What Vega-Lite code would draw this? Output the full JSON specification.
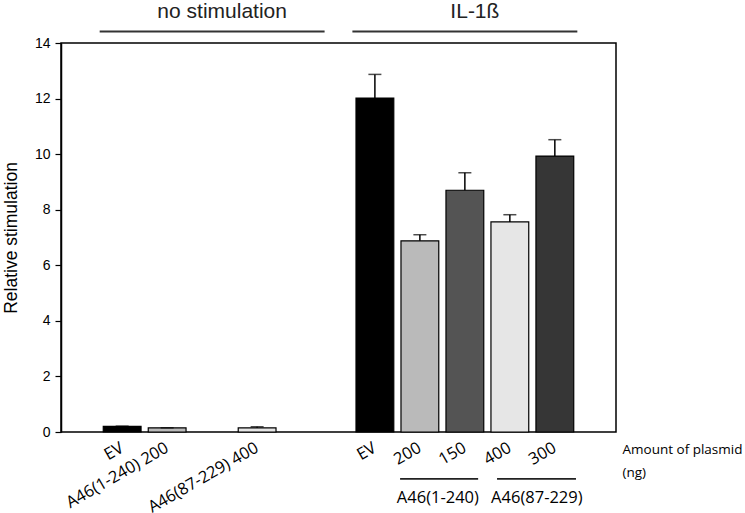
{
  "$schema": "https://vega.github.io/schema/vega-lite/v6.json",
  "width": 555,
  "height": 389,
  "autosize": {"type": "none"},
  "padding": {"left": 61, "top": 43, "right": 129, "bottom": 81},
  "background": "white",
  "config": {"view": {"stroke": "black", "strokeWidth": 1.5}, "font": "Liberation Sans"},
  "datasets": {
    "bars": [
      {"group": "no stimulation", "treatment": "EV", "label": "EV", "value": 0.2, "hi": 0.21},
      {"group": "no stimulation", "treatment": "A46(1-240) 200", "label": "A46(1-240) 200", "value": 0.15, "hi": 0.15},
      {"group": "no stimulation", "treatment": "A46(87-229) 400", "label": "A46(87-229) 400", "value": 0.15, "hi": 0.19},
      {"group": "IL-1ß", "treatment": "EV", "label": "EV", "value": 12.02, "hi": 12.87},
      {"group": "IL-1ß", "treatment": "A46(1-240) 200", "label": "200", "value": 6.88, "hi": 7.1},
      {"group": "IL-1ß", "treatment": "A46(1-240) 150", "label": "150", "value": 8.7, "hi": 9.33},
      {"group": "IL-1ß", "treatment": "A46(87-229) 400", "label": "400", "value": 7.56, "hi": 7.82},
      {"group": "IL-1ß", "treatment": "A46(87-229) 300", "label": "300", "value": 9.93, "hi": 10.52}
    ],
    "groups": [{"group": "no stimulation"}, {"group": "IL-1ß"}],
    "brackets": [
      {"group": "IL-1ß", "construct": "A46(1-240)"},
      {"group": "IL-1ß", "construct": "A46(87-229)"}
    ]
  },
  "encoding": {
    "x": {
      "field": "group",
      "type": "nominal",
      "sort": ["no stimulation", "IL-1ß"],
      "scale": {"domain": ["no stimulation", "IL-1ß"], "paddingInner": 0.11, "paddingOuter": 0.153},
      "axis": {
        "title": ["Amount of plasmid", "(ng)"],
        "labels": false,
        "ticks": false,
        "domain": false,
        "titleAnchor": "start",
        "titleAlign": "left",
        "titleX": 561,
        "titleY": 21,
        "titleBaseline": "alphabetic",
        "titleFont": "Open Sans",
        "titleFontSize": 13.5,
        "titleFontWeight": "normal",
        "titleColor": "black",
        "titleLineHeight": 23
      }
    }
  },
  "layer": [
    {
      "data": {"name": "bars"},
      "mark": {"type": "bar", "stroke": "black", "strokeWidth": 1.2},
      "encoding": {
        "xOffset": {
          "field": "treatment",
          "type": "nominal",
          "scale": {
            "domain": ["EV", "A46(1-240) 200", "A46(1-240) 150", "A46(87-229) 400", "A46(87-229) 300"],
            "paddingInner": 0.16,
            "paddingOuter": 0.08
          }
        },
        "y": {
          "field": "value",
          "type": "quantitative",
          "title": "Relative stimulation",
          "scale": {"domain": [0, 14], "nice": false, "zero": true},
          "axis": {
            "values": [0, 2, 4, 6, 8, 10, 12, 14],
            "grid": false,
            "domainColor": "black",
            "domainWidth": 1.5,
            "tickColor": "black",
            "tickSize": 6,
            "tickWidth": 1.2,
            "labelFont": "Liberation Sans",
            "labelFontSize": 14,
            "labelColor": "black",
            "labelPadding": 5,
            "titleFont": "Liberation Sans",
            "titleFontSize": 17.5,
            "titleFontWeight": "normal",
            "titleColor": "black",
            "titlePadding": 14
          }
        },
        "color": {
          "field": "treatment",
          "type": "nominal",
          "scale": {
            "domain": ["EV", "A46(1-240) 200", "A46(1-240) 150", "A46(87-229) 400", "A46(87-229) 300"],
            "range": ["#000000", "#bababa", "#545454", "#e6e6e6", "#363636"]
          },
          "legend": null
        }
      }
    },
    {
      "data": {"name": "bars"},
      "mark": {"type": "rule", "color": "black", "strokeWidth": 1.5},
      "encoding": {
        "xOffset": {"field": "treatment", "type": "nominal"},
        "y": {"field": "value", "type": "quantitative", "title": "Relative stimulation"},
        "y2": {"field": "hi"}
      }
    },
    {
      "data": {"name": "bars"},
      "mark": {"type": "tick", "color": "black", "size": 13, "thickness": 1.5},
      "encoding": {
        "xOffset": {"field": "treatment", "type": "nominal"},
        "y": {"field": "hi", "type": "quantitative", "title": "Relative stimulation"}
      }
    },
    {
      "data": {"name": "bars"},
      "mark": {"type": "text", "angle": 330, "align": "right", "baseline": "middle", "font": "Open Sans", "fontSize": 16.5, "color": "black"},
      "encoding": {
        "xOffset": {"field": "treatment", "type": "nominal"},
        "y": {"datum": -0.53},
        "text": {"field": "label"}
      }
    },
    {
      "data": {"name": "groups"},
      "mark": {"type": "text", "baseline": "alphabetic", "align": "center", "font": "Liberation Sans", "fontSize": 21, "color": "#222222", "dx": 10},
      "encoding": {
        "y": {"datum": 14.9},
        "text": {"field": "group"}
      }
    },
    {
      "data": {"name": "groups"},
      "mark": {"type": "bar", "color": "#333333"},
      "encoding": {
        "y": {"datum": 14.38},
        "y2": {"datum": 14.45}
      }
    },
    {
      "data": {"name": "brackets"},
      "transform": [{"filter": "datum.construct === 'A46(1-240)'"}],
      "layer": [
        {
          "mark": {"type": "rule", "color": "#222222", "strokeWidth": 1.8},
          "encoding": {
            "x": {"field": "group", "type": "nominal", "bandPosition": 0.212},
            "x2": {"field": "group", "bandPosition": 0.559},
            "y": {"datum": -1.69}
          }
        },
        {
          "mark": {"type": "text", "baseline": "alphabetic", "align": "center", "font": "Open Sans", "fontSize": 16.5, "color": "black"},
          "encoding": {
            "x": {"field": "group", "type": "nominal", "bandPosition": 0.38},
            "y": {"datum": -2.54},
            "text": {"field": "construct"}
          }
        }
      ]
    },
    {
      "data": {"name": "brackets"},
      "transform": [{"filter": "datum.construct === 'A46(87-229)'"}],
      "layer": [
        {
          "mark": {"type": "rule", "color": "#222222", "strokeWidth": 1.8},
          "encoding": {
            "x": {"field": "group", "type": "nominal", "bandPosition": 0.643},
            "x2": {"field": "group", "bandPosition": 0.994},
            "y": {"datum": -1.69}
          }
        },
        {
          "mark": {"type": "text", "baseline": "alphabetic", "align": "center", "font": "Open Sans", "fontSize": 16.5, "color": "black"},
          "encoding": {
            "x": {"field": "group", "type": "nominal", "bandPosition": 0.82},
            "y": {"datum": -2.54},
            "text": {"field": "construct"}
          }
        }
      ]
    }
  ]
}
